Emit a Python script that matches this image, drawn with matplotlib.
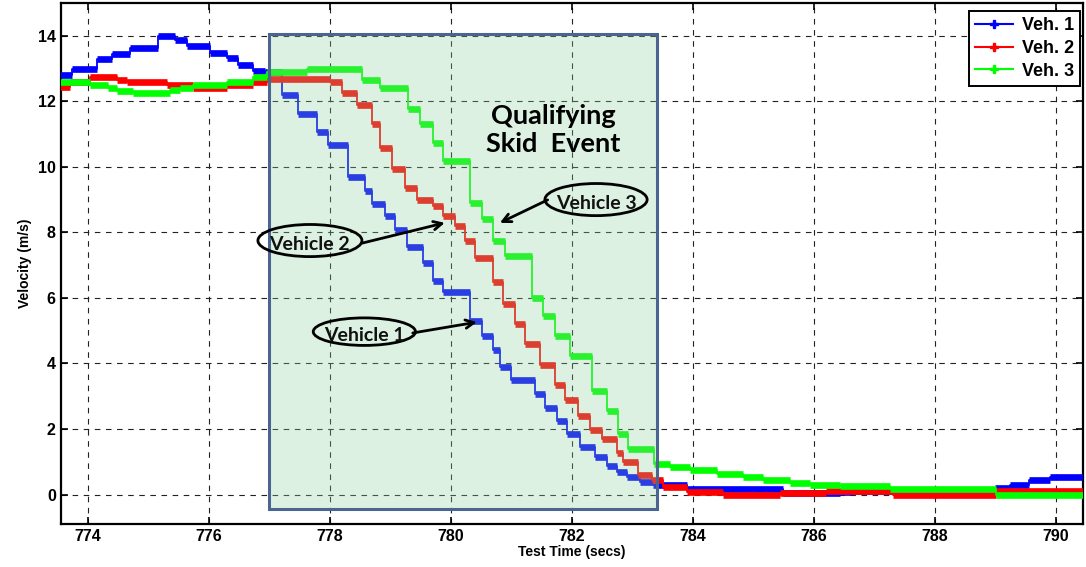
import numpy as np
import matplotlib
matplotlib.use('Agg')
import matplotlib.pyplot as plt
from matplotlib.patches import Rectangle, Ellipse
from matplotlib.lines import Line2D

#%% Step data (time in s, velocity in m/s)
veh1_t = [773.54, 773.74, 774.15, 774.40, 774.69, 775.16, 775.44, 775.64, 776.02, 776.30,
          776.48, 776.73, 776.93, 777.21, 777.47, 777.79, 777.97, 778.30, 778.58, 778.69,
          778.91, 779.07, 779.27, 779.54, 779.70, 779.87, 780.31, 780.51, 780.69, 780.81,
          781.00, 781.39, 781.55, 781.75, 781.92, 782.13, 782.38, 782.58, 782.74, 782.91,
          783.12, 783.34, 783.90, 785.49, 786.43, 786.64, 789.00, 789.25, 789.55, 789.90,
          790.45]
veh1_v = [12.80, 12.97, 13.30, 13.45, 13.62, 13.98, 13.86, 13.70, 13.47, 13.32,
          13.12, 12.92, 12.88, 12.20, 11.60, 11.05, 10.66, 9.70, 9.26, 8.86,
          8.50, 8.07, 7.54, 7.07, 6.52, 6.17, 5.30, 4.85, 4.40, 3.90,
          3.48, 3.08, 2.63, 2.23, 1.84, 1.44, 1.13, 0.86, 0.68, 0.53,
          0.38, 0.28, 0.17, 0.05, 0.08, 0.10, 0.20, 0.30, 0.43, 0.55,
          0.55]

veh2_t = [773.54, 773.70, 774.03, 774.48, 774.64, 775.31, 775.74, 776.30, 776.73, 776.96,
          778.00, 778.20, 778.45, 778.69, 778.83, 779.02, 779.24, 779.44, 779.70, 779.87,
          780.07, 780.23, 780.40, 780.69, 780.86, 781.06, 781.22, 781.47, 781.72, 781.88,
          782.10, 782.30, 782.50, 782.74, 782.84, 783.09, 783.32, 783.50, 783.90, 784.50,
          785.44, 786.21, 787.31, 789.02, 790.45]
veh2_v = [12.45, 12.60, 12.75, 12.66, 12.60, 12.50, 12.40, 12.50, 12.58, 12.68,
          12.60, 12.25, 11.90, 11.30, 10.58, 9.93, 9.36, 9.00, 8.80, 8.50,
          8.20, 7.74, 7.23, 6.50, 5.82, 5.21, 4.60, 3.94, 3.33, 2.87,
          2.41, 1.96, 1.68, 1.26, 0.98, 0.59, 0.44, 0.23, 0.08, -0.02,
          0.05, 0.11, -0.02, 0.12, 0.12]

veh3_t = [773.54, 774.03, 774.33, 774.48, 774.74, 775.36, 775.52, 775.74, 776.30, 776.73,
          776.96, 777.62, 778.53, 778.83, 779.29, 779.49, 779.70, 779.87, 780.31, 780.51,
          780.69, 780.89, 781.34, 781.52, 781.72, 781.97, 782.33, 782.58, 782.76, 782.93,
          783.36, 783.62, 783.95, 784.40, 784.83, 785.16, 785.60, 785.93, 786.43, 787.26,
          789.02, 790.45]
veh3_v = [12.60, 12.50, 12.40, 12.30, 12.25, 12.35, 12.40, 12.50, 12.60, 12.75,
          12.90, 12.98, 12.66, 12.40, 11.75, 11.30, 10.73, 10.17, 8.90, 8.40,
          7.74, 7.28, 6.01, 5.46, 4.85, 4.24, 3.15, 2.54, 1.86, 1.40,
          0.94, 0.84, 0.74, 0.64, 0.54, 0.44, 0.35, 0.30, 0.25, 0.18,
          -0.02, -0.02]

series = [
    ('Veh. 1', veh1_t, veh1_v, '#0000ff'),
    ('Veh. 2', veh2_t, veh2_v, '#ff0000'),
    ('Veh. 3', veh3_t, veh3_v, '#00ff00'),
]

x_ticks = [774, 776, 778, 780, 782, 784, 786, 788, 790]
y_ticks = [0, 2, 4, 6, 8, 10, 12, 14]

#%% Figure
fig = plt.figure(figsize=(10.86, 5.67), dpi=100)
ax = fig.add_axes([0.0559, 0.0758, 0.9413, 0.919])

for name, t, v, color in series:
    t = np.array(t)
    v = np.array(v)
    ax.plot(t, v, drawstyle='steps-post', color=color, lw=1.3, zorder=3)
    ax.hlines(v[:-1], t[:-1], t[1:], color=color, lw=4.8, zorder=3,
              capstyle='butt')

# Highlight box for the skid event (overlaid, semi transparent)
ax.add_patch(Rectangle((777.0, -0.45), 6.4, 14.5, facecolor=(0.55, 0.82, 0.62),
                       alpha=0.3, edgecolor='none', zorder=4))
ax.add_patch(Rectangle((777.0, -0.45), 6.4, 14.5, facecolor='none',
                       edgecolor='#4a6590', lw=2.2, zorder=5))

ax.text(781.69, 11.12, 'Qualifying\nSkid  Event', ha='center', va='center',
        fontsize=19.5, fontweight='bold', family='Lato', linespacing=1.2, zorder=6)

# Callouts
callouts = [
    ('Vehicle 2', (777.67, 7.75), 1.72, 0.98, (778.53, 7.67), (779.90, 8.29)),
    ('Vehicle 1', (778.57, 4.97), 1.69, 0.84, (779.37, 4.93), (780.43, 5.26)),
    ('Vehicle 3', (782.40, 9.00), 1.69, 0.98, (781.60, 8.99), (780.81, 8.29)),
]
for label, c, w, h, tail, head in callouts:
    ax.add_patch(Ellipse(c, w, h, fill=False, edgecolor='black', lw=2, zorder=6))
    ax.text(c[0], c[1] - 0.12, label, ha='center', va='center', fontsize=14,
            fontweight='bold', family='Lato', color='#111111', zorder=6)
    ax.annotate('', xy=head, xytext=tail, zorder=6,
                arrowprops=dict(arrowstyle='->,head_length=0.6,head_width=0.3',
                                color='black', lw=2, shrinkA=0, shrinkB=0))

ax.set_xlim(773.55, 790.45)
ax.set_ylim(-0.9, 15)
ax.set_xticks(x_ticks)
ax.set_yticks(y_ticks)
ax.grid(True, color='#222222', linestyle=(0, (5, 5)), lw=0.8)
ax.set_axisbelow(True)
ax.tick_params(direction='in', top=True, right=True, length=5, width=1.2,
               labelsize=11.5)
for lab in ax.get_xticklabels() + ax.get_yticklabels():
    lab.set_fontweight('bold')
    lab.set_family('Liberation Sans')
for sp in ax.spines.values():
    sp.set_linewidth(1.6)

ax.set_xlabel('Test Time (secs)', fontsize=10, fontweight='bold',
              family='Liberation Sans', labelpad=1)
ax.set_ylabel('Velocity (m/s)', fontsize=10, fontweight='bold',
              family='Liberation Sans', labelpad=4)

handles = [Line2D([], [], color=c, lw=1.5, marker='P', markersize=6)
           for _, _, _, c in series]
leg = ax.legend(handles, [s[0] for s in series], loc='upper right',
                bbox_to_anchor=(0.9975, 0.985),
                prop={'family': 'Liberation Sans', 'weight': 'bold', 'size': 13},
                fancybox=False, framealpha=1, edgecolor='black',
                borderaxespad=0.0, handlelength=2.1, labelspacing=0.32,
                borderpad=0.35, handletextpad=0.5)
leg.get_frame().set_linewidth(1.4)
leg.set_zorder(10)

fig.savefig('out.png', dpi=100)
